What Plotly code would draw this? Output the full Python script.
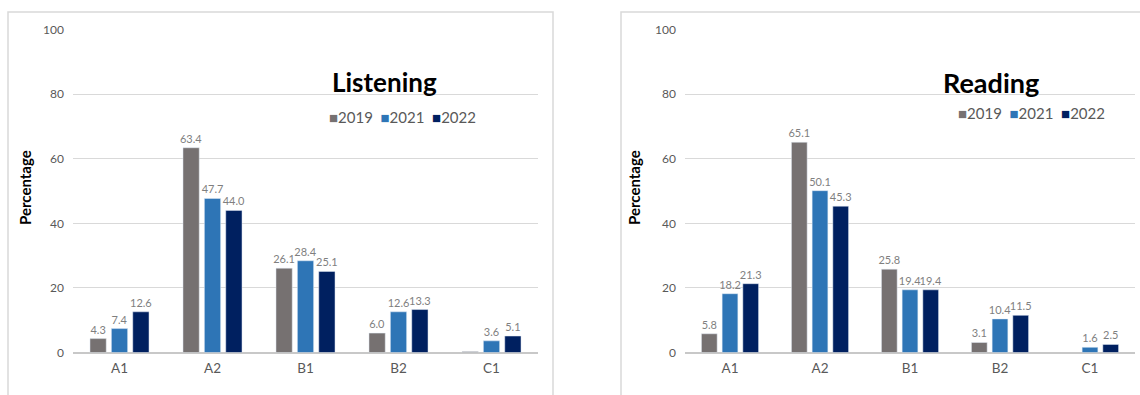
import plotly.graph_objects as go

# CEFR levels and yearly percentages for the two skills
levels = ["A1", "A2", "B1", "B2", "C1"]
years = ["2019", "2021", "2022"]

listening_2019 = [4.3, 63.4, 26.1, 6.0, 0.3]
listening_2021 = [7.4, 47.7, 28.4, 12.6, 3.6]
listening_2022 = [12.6, 44.0, 25.1, 13.3, 5.1]
listening_labels_2019 = ["4.3", "63.4", "26.1", "6.0", ""]

reading_2019 = [5.8, 65.1, 25.8, 3.1, None]
reading_2021 = [18.2, 50.1, 19.4, 10.4, 1.6]
reading_2022 = [21.3, 45.3, 19.4, 11.5, 2.5]

y_ticks = [0, 20, 40, 60, 80, 100]

colors = {"2019": "#767171", "2021": "#2E75B6", "2022": "#002060"}
W, H = 1140, 395
FONT = "Lato"
LABEL_GRAY = "#7f7f7f"
TICK_GRAY = "#595959"


def px_x(v):
    return v / W


def px_y(v):
    return (H - v) / H


def fmt(vals):
    return ["" if v is None else f"{v:.1f}" for v in vals]


fig = go.Figure()

series_left = [listening_2019, listening_2021, listening_2022]
series_right = [reading_2019, reading_2021, reading_2022]

label_font = dict(family=FONT, size=11, color=LABEL_GRAY)

for yr, vals in zip(years, series_left):
    text = listening_labels_2019 if yr == "2019" else fmt(vals)
    fig.add_trace(go.Bar(
        x=levels, y=vals, name=yr, text=text, textposition="outside",
        cliponaxis=False, textfont=label_font,
        marker=dict(color=colors[yr]),
        xaxis="x", yaxis="y", showlegend=False,
    ))

for yr, vals in zip(years, series_right):
    fig.add_trace(go.Bar(
        x=levels, y=vals, name=yr, text=fmt(vals), textposition="outside",
        cliponaxis=False, textfont=label_font,
        marker=dict(color=colors[yr]),
        xaxis="x2", yaxis="y2", showlegend=False,
    ))

plot_top = px_y(29.5)
plot_bottom = px_y(352.5)

common_y = dict(
    range=[0, 100], tickvals=y_ticks, showgrid=True, gridcolor="#d9d9d9",
    gridwidth=1, zeroline=True, zerolinecolor="#c8c8c8", zerolinewidth=1.5,
    showline=False, ticks="", ticklabelstandoff=8, automargin=False,
    tickfont=dict(family=FONT, size=12, color=TICK_GRAY),
    domain=[plot_bottom, plot_top],
)
common_x = dict(
    showgrid=False, showline=False, ticks="", zeroline=False, automargin=False,
    tickfont=dict(family=FONT, size=13.5, color=TICK_GRAY),
    ticklabelstandoff=6,
)

fig.update_layout(
    width=W, height=H,
    margin=dict(l=0, r=0, t=0, b=0, autoexpand=False),
    paper_bgcolor="white", plot_bgcolor="white",
    barmode="group", bargap=0.31, bargroupgap=0.24,
    uniformtext=dict(minsize=11, mode="show"),
    font=dict(family=FONT),
    xaxis=dict(domain=[px_x(73), px_x(538)], anchor="y", **common_x),
    yaxis=dict(anchor="x", **common_y),
    xaxis2=dict(domain=[px_x(685), px_x(1135)], anchor="y2", **common_x),
    yaxis2=dict(anchor="x2", **common_y),
    showlegend=False,
)

# Chart frames
fig.add_shape(type="rect", xref="paper", yref="paper",
              x0=px_x(8), x1=px_x(553), y0=-0.05, y1=px_y(12),
              line=dict(color="#d9d9d9", width=1.5), layer="below")
fig.add_shape(type="rect", xref="paper", yref="paper",
              x0=px_x(621), x1=1.05, y0=-0.05, y1=px_y(12),
              line=dict(color="#d9d9d9", width=1.5), layer="below")

# Chart titles
fig.add_annotation(text="<b>Listening</b>", xref="paper", yref="paper",
                   x=px_x(384), y=px_y(82), xanchor="center", yanchor="middle",
                   showarrow=False, font=dict(family=FONT, size=26, color="black"))
fig.add_annotation(text="<b>Reading</b>", xref="paper", yref="paper",
                   x=px_x(991), y=px_y(82), xanchor="center", yanchor="middle",
                   showarrow=False, font=dict(family=FONT, size=27, color="black"))

# Compact year legends
legend_text = "  ".join(
    f"<span style='color:{colors[yr]}'>■</span>{yr}" for yr in years
)
for xc, yc in ((402, 117), (1031, 113)):
    fig.add_annotation(text=legend_text, xref="paper", yref="paper",
                       x=px_x(xc), y=px_y(yc), xanchor="center", yanchor="middle",
                       showarrow=False,
                       font=dict(family=FONT, size=15, color=TICK_GRAY))

# Y-axis titles
for xc in (25, 634):
    fig.add_annotation(text="<b>Percentage</b>", xref="paper", yref="paper",
                       x=px_x(xc), y=px_y(188), xanchor="center", yanchor="middle",
                       textangle=-90, showarrow=False,
                       font=dict(family=FONT, size=15, color="black"))

fig.write_html("out.html")
